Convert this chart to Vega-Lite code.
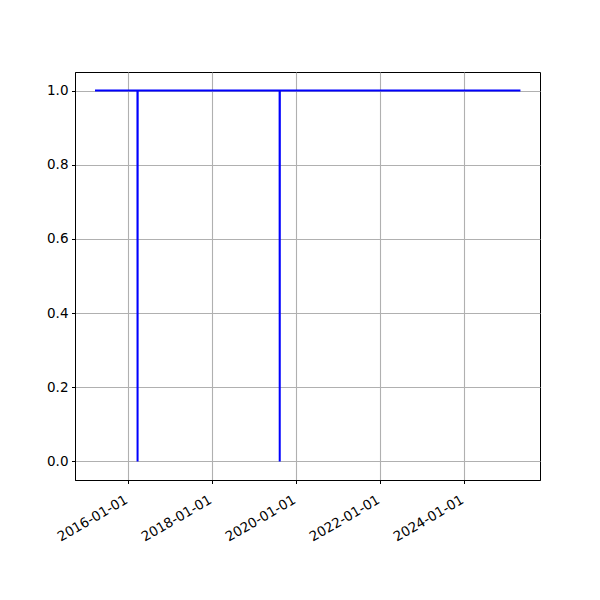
{
  "$schema": "https://vega.github.io/schema/vega-lite/v6.json",
  "autosize": "none",
  "width": 465,
  "height": 408,
  "padding": {"left": 75, "top": 72, "right": 60, "bottom": 120},
  "background": "white",
  "config": {
    "view": {"stroke": "black", "strokeWidth": 1},
    "font": "DejaVu Sans",
    "axis": {
      "labelFont": "DejaVu Sans",
      "labelFontSize": 13.5,
      "labelColor": "black",
      "domainColor": "black",
      "tickColor": "black",
      "tickSize": 3.5,
      "tickWidth": 1,
      "labelPadding": 3.5,
      "gridColor": "#b0b0b0",
      "gridWidth": 1.1,
      "title": null
    }
  },
  "data": {
    "values": [
      {"date": "2015-03-23", "value": 1},
      {"date": "2016-03-26", "value": 1},
      {"date": "2016-03-27", "value": 0},
      {"date": "2016-03-28", "value": 1},
      {"date": "2019-08-14", "value": 1},
      {"date": "2019-08-15", "value": 0},
      {"date": "2019-08-16", "value": 1},
      {"date": "2025-05-08", "value": 1}
    ]
  },
  "mark": {"type": "line", "color": "#0000ff", "strokeWidth": 2},
  "encoding": {
    "x": {
      "field": "date",
      "type": "temporal",
      "scale": {
        "type": "utc",
        "domain": [
          {"year": 2014, "month": 9, "date": 30, "utc": true},
          {"year": 2025, "month": 10, "date": 25, "utc": true}
        ]
      },
      "axis": {
        "values": [
          {"year": 2016, "month": 1, "date": 1, "utc": true},
          {"year": 2018, "month": 1, "date": 1, "utc": true},
          {"year": 2020, "month": 1, "date": 1, "utc": true},
          {"year": 2022, "month": 1, "date": 1, "utc": true},
          {"year": 2024, "month": 1, "date": 1, "utc": true}
        ],
        "labelExpr": "utcFormat(datum.value, '%Y-%m-%d')",
        "labelAngle": -30,
        "labelAlign": "right",
        "labelBaseline": "top",
        "labelOffset": -5,
        "labelPadding": 9,
        "labelOverlap": false,
        "grid": true
      }
    },
    "y": {
      "field": "value",
      "type": "quantitative",
      "scale": {"domain": [-0.05, 1.05], "nice": false, "zero": false},
      "axis": {
        "values": [0, 0.2, 0.4, 0.6, 0.8, 1.0],
        "format": ".1f",
        "grid": true
      }
    }
  }
}
